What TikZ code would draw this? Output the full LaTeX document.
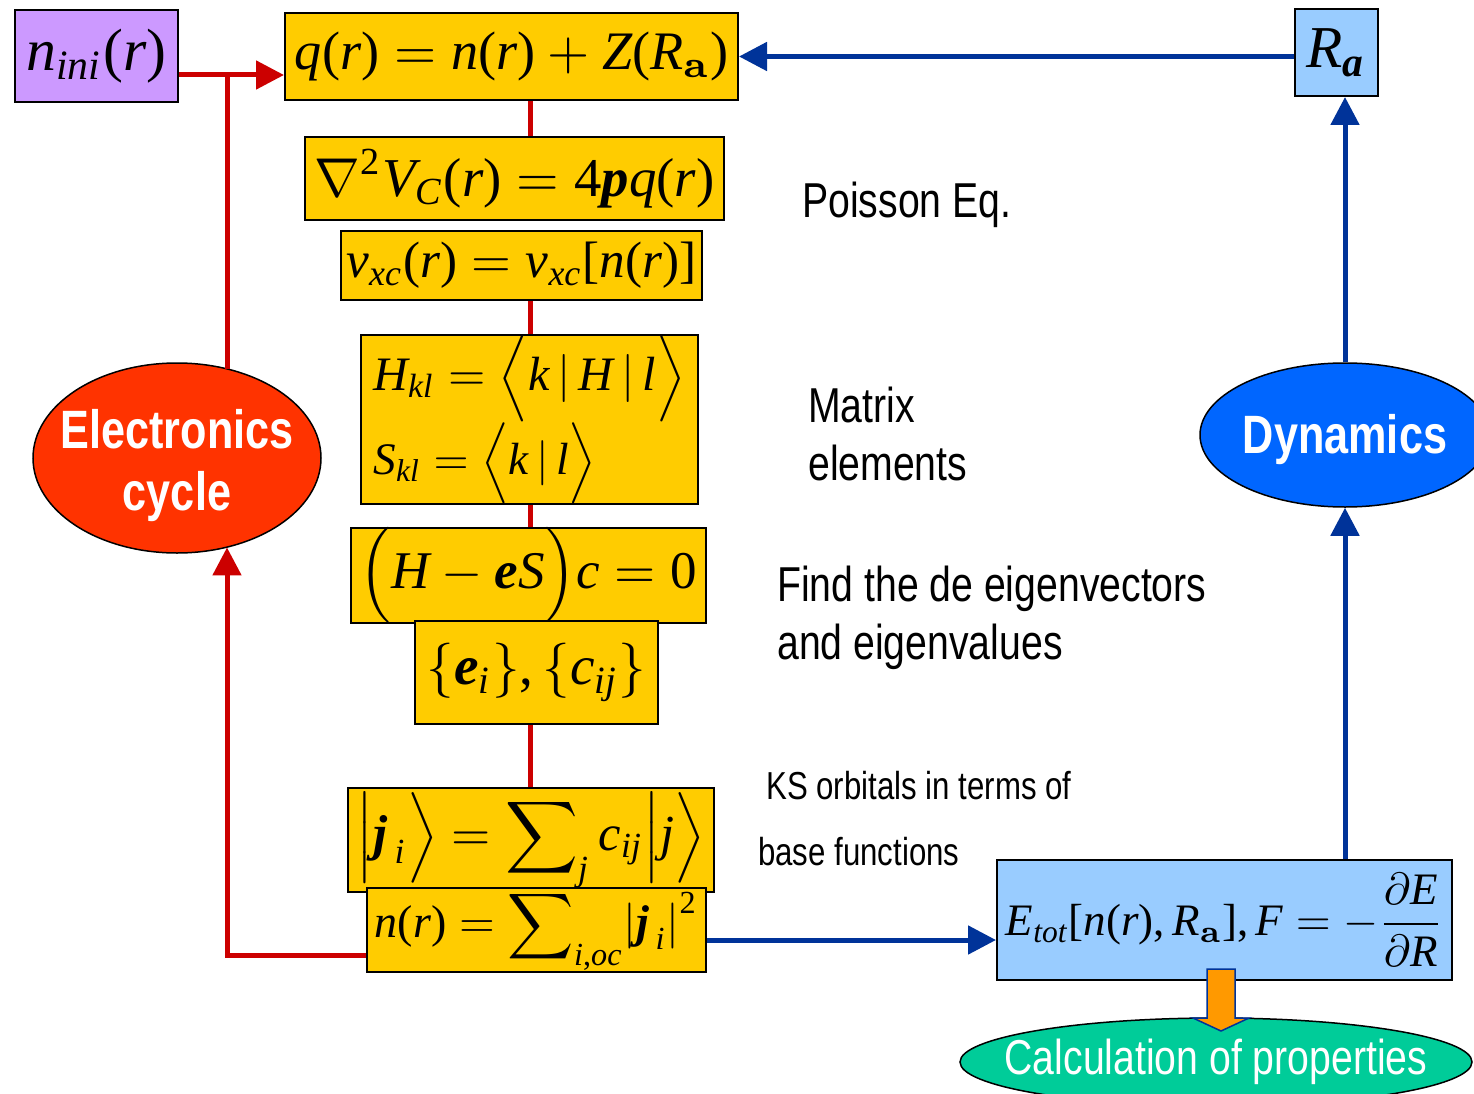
\documentclass[tikz,border=0pt]{standalone}
\usepackage{amsmath}
\usepackage{bm}
\usepackage[no-math]{fontspec}
\usepackage{graphicx}
\usetikzlibrary{arrows.meta,shapes.geometric}
\newfontfamily\narrowsf[FakeStretch=0.8]{Liberation Sans}
\newfontfamily\serifeq[NFSSFamily=libser]{Liberation Serif}
\DeclareSymbolFont{lsletters}{TU}{libser}{m}{it}
\SetSymbolFont{lsletters}{bold}{TU}{libser}{b}{it}
\DeclareSymbolFont{lsupright}{TU}{libser}{m}{n}
\SetSymbolFont{lsupright}{bold}{TU}{libser}{b}{n}
\newcount\mcnt
\mcnt=`a
\loop \mathcode\mcnt=\numexpr"7000+\symlsletters*256+\mcnt\relax \ifnum\mcnt<`z \advance\mcnt by 1 \repeat
\mcnt=`A
\loop \mathcode\mcnt=\numexpr"7000+\symlsletters*256+\mcnt\relax \ifnum\mcnt<`Z \advance\mcnt by 1 \repeat
\mcnt=`0
\loop \mathcode\mcnt=\numexpr"7000+\symlsupright*256+\mcnt\relax \ifnum\mcnt<`9 \advance\mcnt by 1 \repeat
\mathcode`(=\numexpr"4000+\symlsupright*256+`(\relax
\mathcode`)=\numexpr"5000+\symlsupright*256+`)\relax
\mathcode`[=\numexpr"4000+\symlsupright*256+`[\relax
\mathcode`]=\numexpr"5000+\symlsupright*256+`]\relax
\mathcode`,=\numexpr"6000+\symlsupright*256+`,\relax
\definecolor{BoxYellow}{HTML}{FFCC00}
\definecolor{BoxBlue}{HTML}{99CCFF}
\definecolor{BoxLilac}{HTML}{CC99FF}
\definecolor{LoopRed}{HTML}{CC0000}
\definecolor{LoopBlue}{HTML}{003399}
\definecolor{CycRed}{HTML}{FF3300}
\definecolor{DynBlue}{HTML}{0066FF}
\definecolor{PropGreen}{HTML}{00CC99}
\definecolor{ArrOrange}{HTML}{FF9900}
\newcommand{\fitw}[2]{\resizebox{#1pt}{!}{$\displaystyle #2$}}
\newcommand{\zw}[1]{\makebox[0pt]{#1}}
\begin{document}
\begin{tikzpicture}[x=1pt,y=-1pt,
 eq/.style={draw=black,line width=2pt,fill=BoxYellow,inner sep=0pt},
 blob/.style={ellipse,draw=black,line width=1.5pt,inner sep=0pt,text=white},
 redln/.style={line width=5pt,draw=LoopRed},
 redarr/.style={redln,-{Triangle[length=28pt,width=28pt]}},
 blueln/.style={line width=5pt,draw=LoopBlue},
 bluearr/.style={blueln,-{Triangle[length=28pt,width=28pt]}},
 fatarr/.style={fill=ArrOrange,draw=LoopBlue,line width=1.5pt,line join=miter},
 note/.style={anchor=north west,inner sep=0pt,align=left,font=\narrowsf\fontsize{49}{58}\selectfont},
 every node/.style={inner sep=0pt}]
\path[use as bounding box,clip] (0,0) rectangle (1474,1094);
\fill[white] (0,0) rectangle (1474,1094);
\node[eq,fill=BoxLilac,minimum width=163,minimum height=92] (nini) at (96.5,56) {\fitw{140}{n_{ini}(r)}};
\node[eq,minimum width=453,minimum height=87] (q) at (511.5,56.5) {\fitw{433}{q(r)=n(r)+Z(R_{\mathbf{a}})}};
\node[eq,fill=BoxBlue,minimum width=83,minimum height=87] (Ra) at (1336.5,52.5) {\fitw{60}{R_{\bm{a}}}};
\node[eq,minimum width=419,minimum height=83] (nabla) at (514.5,178.5) {\fitw{400}{\nabla^2 V_C(r)=4\bm{p}q(r)}};
\node[eq,minimum width=361,minimum height=69] (vxc) at (521.5,265.5) {\fitw{350}{v_{xc}(r)=v_{xc}[n(r)]}};
\node[eq,minimum width=337,minimum height=169,align=left] (H) at (529.5,419.5)
 {\fitw{312}{H_{kl}=\Bigl\langle k\,\big|\,H\,\big|\,l\Bigr\rangle}\\[0pt]\fitw{223}{S_{kl}=\Bigl\langle k\,\big|\,l\Bigr\rangle}};
\node[eq,minimum width=355,minimum height=93] (ec) at (528.5,575.5) {\fitw{337}{\Bigl(H-\bm{e}S\Bigr)c=0}};
\node[eq,minimum width=243,minimum height=103] (eps) at (536.5,672.5) {\fitw{220}{\{\bm{e}_i\},\{c_{ij}\}}};
\node[eq,minimum width=366,minimum height=104] (phi) at (531,840) {\fitw{348}{\Bigl|\bm{j}_{\,i}\Bigr\rangle=\sum\nolimits_j c_{ij}\Bigl|j\Bigr\rangle}};
\node[eq,minimum width=339,minimum height=84] (nr) at (536.5,930) {\fitw{323}{n(r)=\sum\nolimits_{i,oc}\bigl|\bm{j}_{\,i}\bigr|^2}};
\node[eq,fill=BoxBlue,minimum width=455,minimum height=120] (E) at (1224.5,920) {\fitw{437}{E_{tot}[n(r),R_{\mathbf{a}}],F=-\frac{\partial E}{\partial R}}};
\node[blob,fill=CycRed,minimum width=288,minimum height=190,align=center,font=\narrowsf\bfseries\fontsize{54}{62}\selectfont] (ecyc) at (177,458) {\zw{\rule{0pt}{55pt}Electronics}\\\zw{cycle}};
\node[blob,fill=DynBlue,minimum width=290,minimum height=144,font=\narrowsf\bfseries\fontsize{54}{62}\selectfont] (dyn) at (1345,435) {\zw{\rule{0pt}{49pt}Dynamics}};
\node[blob,fill=PropGreen,minimum width=512,minimum height=88,font=\narrowsf\fontsize{49}{58}\selectfont] (calc) at (1216,1062) {\zw{Calculation of properties}};
\node[note,anchor=base west] (pois) at (802,217) {Poisson Eq.};
\node[note] (matel) at (808,387) {Matrix\\elements};
\node[note] (eigv) at (777,566) {Find the de eigenvectors\\and eigenvalues};
\node[note,font=\narrowsf\fontsize{39}{66}\selectfont] (ksorb) at (758,771) {\hspace{8pt}KS orbitals in terms of\\base functions};
\coordinate (jn) at (227,75);
\coordinate (sp) at (530,0);
\coordinate (nrin) at ([yshift=-25pt]nr.west);
\coordinate (nrout) at ([yshift=-10pt]nr.east);
\draw[redarr] (nini.east|-jn) -- (q.west|-jn);
\draw[redln] (jn|-ecyc.60.7) -- (jn);
\draw[redarr] (nrin) -| (jn|-ecyc.-60.7);
\draw[redln] (q.south-|sp) -- (nabla.north-|sp);
\draw[redln] (vxc.south-|sp) -- (H.north-|sp);
\draw[redln] (H.south-|sp) -- (ec.north-|sp);
\draw[redln] (eps.south-|sp) -- (phi.north-|sp);
\draw[bluearr] (Ra.west|-q.east) -- (q.east);
\draw[bluearr] (dyn.north) -- (dyn.north|-Ra.south);
\draw[bluearr] (E.north-|dyn.south) -- (dyn.south);
\draw[bluearr] (nrout) -- (nrout-|E.west);
\draw[fatarr] ([xshift=-17.5pt,yshift=12pt]E.south) -- ++(0,49) -- ++(-14,0) -- ++(28,13) -- ++(28,-13) -- ++(-14,0) -- ++(0,-49) -- cycle;
\end{tikzpicture}
\end{document}
